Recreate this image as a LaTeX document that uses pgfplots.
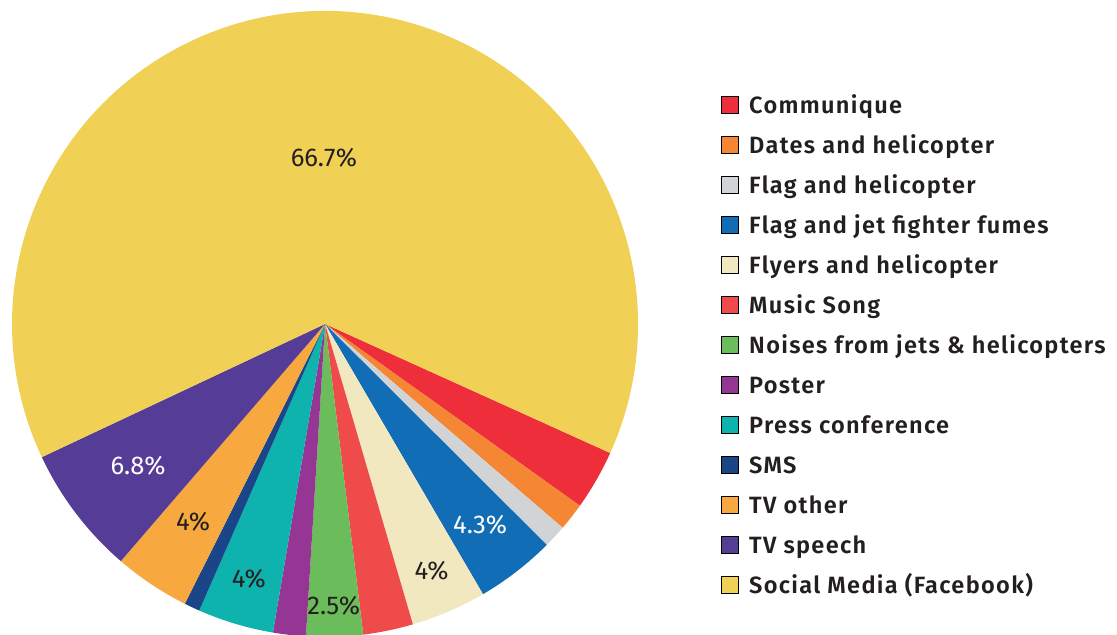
\documentclass[border=0pt]{standalone}
\usepackage{pgfplots}
\pgfplotsset{compat=1.18}
\usepackage{pgfplotstable}
\usepackage{fontspec}
\setmainfont{Fira Sans}[BoldFont={Fira Sans SemiBold}]
\newfontfamily\legfont{Fira Sans SemiBold}[LetterSpace=5.6]
\definecolor{slice0}{HTML}{EE2E3A}
\definecolor{slice1}{HTML}{F58634}
\definecolor{slice2}{HTML}{D1D3D4}
\definecolor{slice3}{HTML}{116DB6}
\definecolor{slice4}{HTML}{F1E8C0}
\definecolor{slice5}{HTML}{EF4B4A}
\definecolor{slice6}{HTML}{6ABD5A}
\definecolor{slice7}{HTML}{953594}
\definecolor{slice8}{HTML}{0DB3AC}
\definecolor{slice9}{HTML}{1A4589}
\definecolor{slice10}{HTML}{F7A83E}
\definecolor{slice11}{HTML}{553D97}
\definecolor{slice12}{HTML}{F0D155}
\definecolor{textdark}{HTML}{231F20}
% share = visible share of the pie (percent); lr = label radius (fraction); lab = printed label; tc = 1 white text
\pgfplotstableread{
share lr   lab  tc
3.10  0    0    0
1.42  0    0    0
1.19  0    0    0
4.11  0.81 4.3  1
3.89  0.86 4    0
2.58  0    0    0
2.92  0.90 2.5  0
1.69  0    0    0
3.92  0.85 4    0
0.81  0    0    0
3.92  0.76 4    0
6.69  0.75 6.8  1
63.76 0.53 66.7 0
}\piedata
\begin{document}
\begin{tikzpicture}
\path[use as bounding box] (0,0) rectangle (22.34cm,12.7cm);
\begin{axis}[
  at={(0,0)}, anchor=south west,
  x=0.02cm, y=0.02cm,
  xmin=0, xmax=1117, ymin=0, ymax=635,
  hide axis, clip=false,
  legend image code/.code={\fill[#1] (0cm,0cm) rectangle (0.34cm,0.34cm);},
  legend cell align=left,
  legend style={
    at={(axis cs:720,549)}, anchor=north west,
    draw=none, fill=none,
    font=\legfont\fontsize{13.4}{16}\selectfont\color{textdark},
    row sep=0pt, column sep=0.22cm,
    inner sep=0pt,
    nodes={inner sep=0pt, text height=0.55cm, text depth=0.25cm, anchor=base west},
  },
]
\xdef\curang{-24.35}
\pgfplotsinvokeforeach{0,...,12}{
  \pgfplotstablegetelem{#1}{share}\of\piedata \let\sh\pgfplotsretval
  \pgfplotstablegetelem{#1}{lr}\of\piedata \let\lr\pgfplotsretval
  \pgfplotstablegetelem{#1}{lab}\of\piedata \let\lab\pgfplotsretval
  \pgfplotstablegetelem{#1}{tc}\of\piedata \let\tc\pgfplotsretval
  \pgfmathsetmacro\aend{\curang-3.6*\sh}
  \pgfmathsetmacro\amid{(\curang+\aend)/2}
  \edef\cmd{\noexpand\fill[slice#1] (axis cs:325,311) -- ++(\curang:6.26cm) arc[start angle=\curang, end angle=\aend, radius=6.26cm] -- cycle;}
  \cmd
  \pgfmathparse{\lr>0 ? 1 : 0}
  \ifnum\pgfmathresult=1
    \pgfmathsetmacro\lx{325+\lr*313*cos(\amid)}
    \pgfmathsetmacro\ly{311+\lr*313*sin(\amid)}
    \ifnum\tc=1 \def\lcol{white}\else\def\lcol{textdark}\fi
    \edef\cmd{\noexpand\node[text=\lcol, font=\noexpand\fontsize{14.6}{17}\noexpand\selectfont] at (axis cs:\lx,\ly) {\lab\noexpand\%};}
    \cmd
  \fi
  \xdef\curang{\aend}
}
\addlegendimage{fill=slice0}\addlegendentry{Communique}
\addlegendimage{fill=slice1}\addlegendentry{Dates and helicopter}
\addlegendimage{fill=slice2}\addlegendentry{Flag and helicopter}
\addlegendimage{fill=slice3}\addlegendentry{Flag and jet fighter fumes}
\addlegendimage{fill=slice4}\addlegendentry{Flyers and helicopter}
\addlegendimage{fill=slice5}\addlegendentry{Music Song}
\addlegendimage{fill=slice6}\addlegendentry{Noises from jets \& helicopters}
\addlegendimage{fill=slice7}\addlegendentry{Poster}
\addlegendimage{fill=slice8}\addlegendentry{Press conference}
\addlegendimage{fill=slice9}\addlegendentry{SMS}
\addlegendimage{fill=slice10}\addlegendentry{TV other}
\addlegendimage{fill=slice11}\addlegendentry{TV speech}
\addlegendimage{fill=slice12}\addlegendentry{Social Media (Facebook)}
\end{axis}
\end{tikzpicture}
\end{document}
